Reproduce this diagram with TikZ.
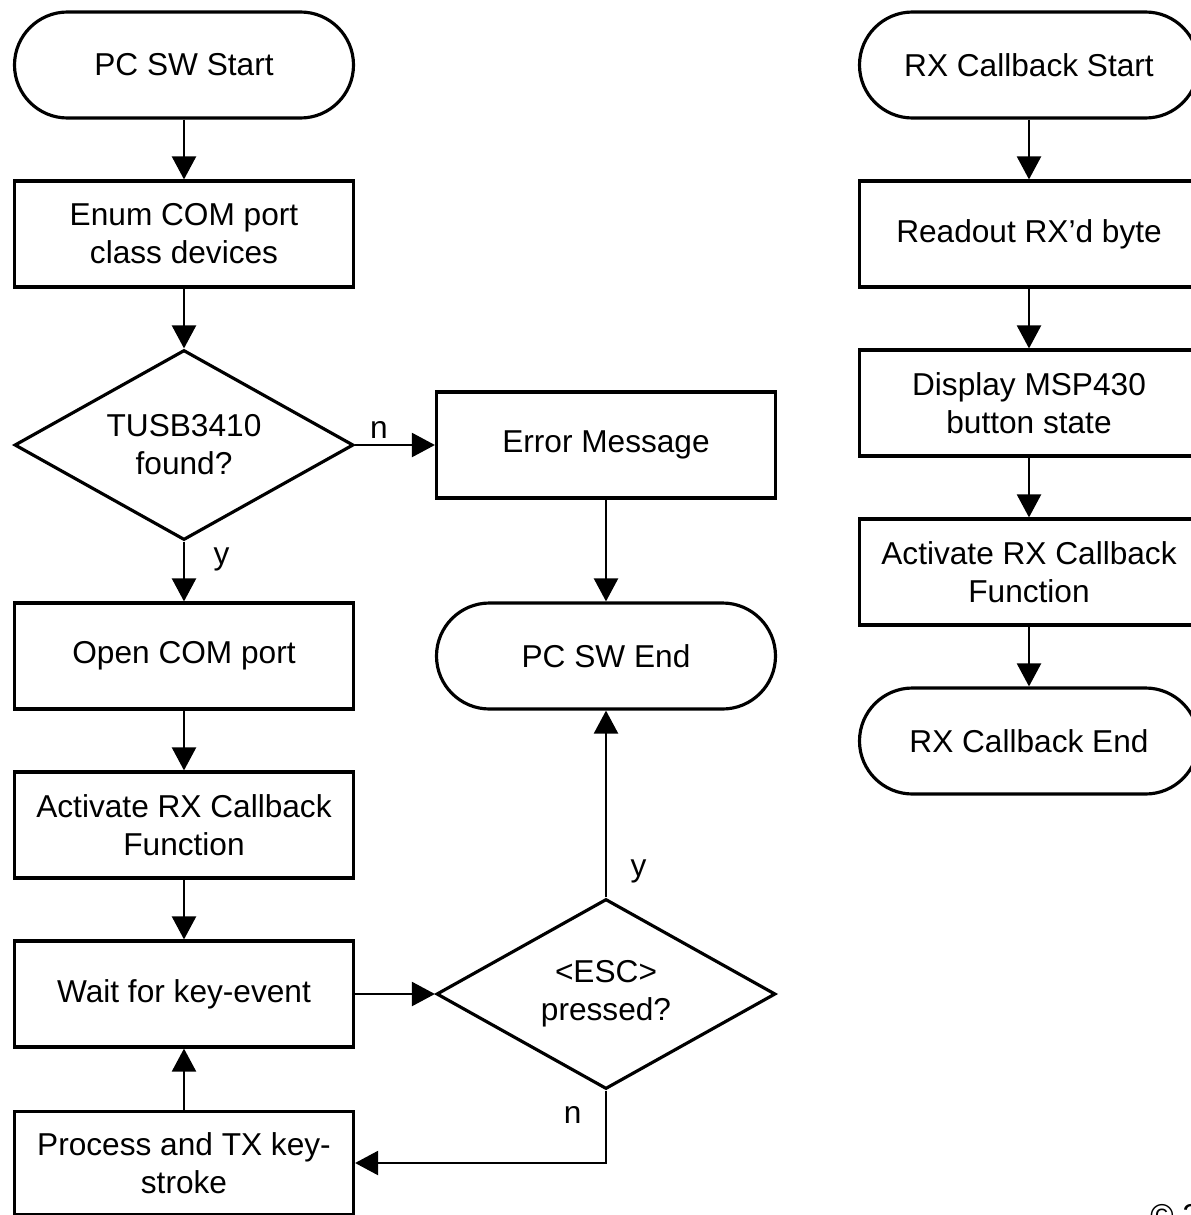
\documentclass[tikz,border=0pt]{standalone}
\usepackage{fontspec}
\setmainfont{Liberation Sans}
\usetikzlibrary{shapes.geometric,arrows.meta}

\begin{document}
\begin{tikzpicture}[node distance=3.38cm,
    box/.style={draw, rectangle, line width=1.8pt, minimum width=6.78cm, minimum height=2.12cm, align=center, font=\fontsize{18}{21.6}\selectfont},
    term/.style={box, rounded corners=1.06cm},
    decision/.style={draw, diamond, line width=1.8pt, aspect=1.78, minimum width=6.78cm, minimum height=3.8cm, inner sep=0pt, align=center, font=\fontsize{18}{21.6}\selectfont},
    arrow/.style={-{Triangle[length=0.46cm, width=0.48cm]}, line width=1.3pt},
    lbl/.style={font=\fontsize{18}{21.6}\selectfont}]
    \useasboundingbox (0,0) rectangle (23.8,-24.3);

    % main program
    \node (pcstart) [term] at (3.68,-1.30) {PC SW Start};
    \node (enum) [box, below of=pcstart] {Enum COM port\\class devices};
    \node (found) [decision, node distance=4.22cm, below of=enum] {TUSB3410\\found?};
    \node (open) [box, node distance=4.22cm, below of=found] {Open COM port};
    \node (activate) [box, below of=open] {Activate RX Callback\\Function};
    \node (wait) [box, below of=activate] {Wait for key-event};
    \node (process) [box, minimum height=2.06cm, below of=wait] {Process and TX key-\\stroke};

    \node (error) [box, node distance=8.44cm, right of=found] {Error Message};
    \node (pcend) [term, node distance=8.44cm, right of=open] {PC SW End};
    \node (esc) [decision, node distance=8.44cm, right of=wait] {<ESC>\\pressed?};

    % callback
    \node (rxstart) [term, node distance=16.9cm, right of=pcstart] {RX Callback Start};
    \node (readout) [box, below of=rxstart] {Readout RX’d byte};
    \node (display) [box, below of=readout] {Display MSP430\\button state};
    \node (rxactivate) [box, below of=display] {Activate RX Callback\\Function};
    \node (rxend) [term, below of=rxactivate] {RX Callback End};

    \node (copy) [lbl, anchor=north west, inner sep=0pt] at (23.0,-24.08) {© 2};

    \draw[arrow] (pcstart) -- (enum);
    \draw[arrow] (enum) -- (found);
    \draw[arrow] (found) -- node[lbl, above, pos=0.3] {n} (error);
    \draw[arrow] (found) -- node[lbl, right=0.45cm, pos=0.3] {y} (open);
    \draw[arrow] (open) -- (activate);
    \draw[arrow] (activate) -- (wait);
    \draw[arrow] (wait) -- (esc);
    \draw[arrow] (error) -- (pcend);
    \draw[arrow] (esc) -- node[lbl, right=0.35cm, pos=0.14] {y} (pcend);
    \draw[arrow] (esc.south) |- node[lbl, left=0.35cm, pos=0.17] {n} (process);
    \draw[arrow] (process) -- (wait);

    \draw[arrow] (rxstart) -- (readout);
    \draw[arrow] (readout) -- (display);
    \draw[arrow] (display) -- (rxactivate);
    \draw[arrow] (rxactivate) -- (rxend);
\end{tikzpicture}
\end{document}
